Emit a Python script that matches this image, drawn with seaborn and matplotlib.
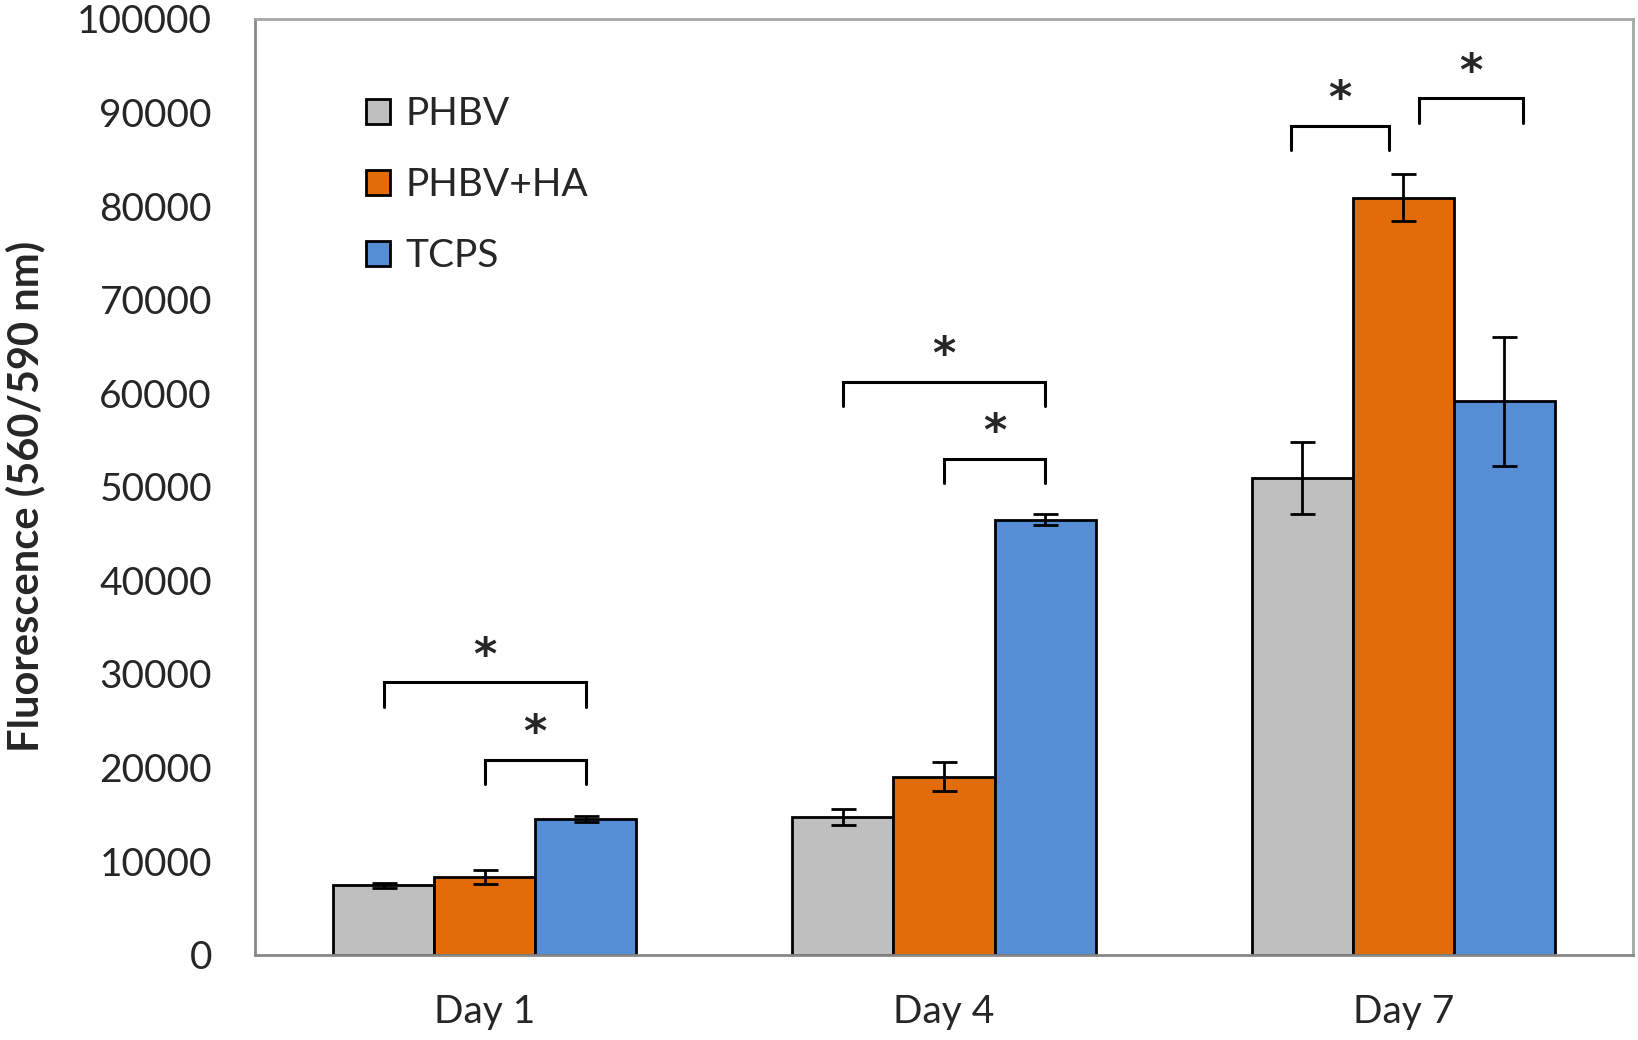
import pandas as pd
import seaborn as sns
import matplotlib.pyplot as plt
from matplotlib.patches import Patch
from matplotlib.ticker import FixedLocator

days = ["Day 1", "Day 4", "Day 7"]
groups = ["PHBV", "PHBV+HA", "TCPS"]
means = {
    "PHBV": [7400, 14700, 50900],
    "PHBV+HA": [8250, 19000, 80900],
    "TCPS": [14500, 46500, 59150],
}
sds = {
    "PHBV": [300, 850, 3850],
    "PHBV+HA": [750, 1550, 2500],
    "TCPS": [350, 550, 6900],
}
colors = ["#bfbfbf", "#e36c0a", "#558ed5"]

# significance brackets: day index, group a, group b, bracket height, star height
brackets = [
    (0, 0, 2, 29100, 31900),
    (0, 1, 2, 20800, 23600),
    (1, 0, 2, 61200, 64000),
    (1, 1, 2, 53000, 55800),
    (2, 0, 1, 88600, 91400),
    (2, 1, 2, 91500, 94300),
]

rows = []
for g in groups:
    for d, m in zip(days, means[g]):
        rows.append({"Day": d, "Group": g, "Fluorescence": m})
df = pd.DataFrame(rows)

sns.set_style("white")
plt.rcParams["font.family"] = ["Lato", "DejaVu Sans"]

fig = plt.figure(figsize=(16.38, 10.4), dpi=100)
ax = fig.add_axes([0.1557, 0.0821, 0.8412, 0.8997])

sns.barplot(data=df, x="Day", y="Fluorescence", hue="Group", palette=colors,
            width=0.66, edgecolor="black", linewidth=2, errorbar=None,
            saturation=1, legend=False, ax=ax)

centers = {}
for gi, (g, cont) in enumerate(zip(groups, ax.containers)):
    for di, bar in enumerate(cont):
        cx = bar.get_x() + bar.get_width() / 2
        centers[(di, gi)] = cx
        ax.errorbar(cx, means[g][di], yerr=sds[g][di], fmt="none", ecolor="black",
                    elinewidth=2, capsize=9, capthick=2, zorder=5)

leg = 2600
for di, a, b, h, sy in brackets:
    x0 = centers[(di, a)]
    x1 = centers[(di, b)]
    if di == 2:
        x0 -= 0.025 if a == 0 else -0.035
        x1 -= 0.03 if b == 1 else -0.04
    ax.plot([x0, x0, x1, x1], [h - leg, h, h, h - leg], color="black", lw=2.2,
            solid_joinstyle="miter", zorder=5)
    ax.text((x0 + x1) / 2, sy, "*", ha="center", va="center", fontsize=32,
            fontweight="bold", family="DejaVu Sans")

ax.set_ylim(0, 100000)
ax.set_xlim(-0.5, 2.5)
ax.set_yticks(range(0, 100001, 10000))
ax.set_yticklabels([str(v) for v in range(0, 100001, 10000)])
ax.xaxis.set_minor_locator(FixedLocator([-0.5, 0.5, 1.5, 2.5]))
ax.tick_params(axis="x", which="major", length=0, pad=28, labelsize=28)
ax.tick_params(axis="x", which="minor", length=16, width=1.5, color="#888888", direction="out")
ax.tick_params(axis="y", length=11, width=1.8, color="#888888", direction="out", pad=20, labelsize=28)
ax.set_xlabel("")
ax.set_ylabel("Fluorescence (560/590 nm)", fontsize=30, fontweight="bold")
ax.yaxis.set_label_coords(-0.152, 0.49)

for side in ["left", "bottom"]:
    ax.spines[side].set_color("#888888")
    ax.spines[side].set_linewidth(2)
for side in ["top", "right"]:
    ax.spines[side].set_color("#a6a6a6")
    ax.spines[side].set_linewidth(2)

handles = [Patch(facecolor=c, edgecolor="black", linewidth=2) for c in colors]
ax.legend(handles, groups, loc="upper left", bbox_to_anchor=(0.055, 0.955), frameon=False,
          fontsize=28, handlelength=0.62, handleheight=0.62, handletextpad=0.4, labelspacing=0.9)

fig.savefig("out.png", dpi=100)
